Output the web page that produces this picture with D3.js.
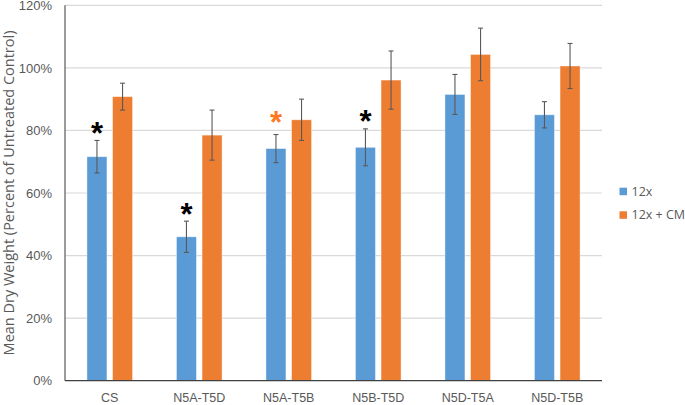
<!DOCTYPE html>
<html><head><meta charset="utf-8">
<script src="https://cdn.jsdelivr.net/npm/d3@7"></script>
<style>body{margin:0;background:#fff;}svg{display:block;font-family:"Open Sans","Liberation Sans",Arial,sans-serif;}</style>
</head><body>
<script>
const categories = ["CS","N5A-T5D","N5A-T5B","N5B-T5D","N5D-T5A","N5D-T5B"];
const seriesNames = ["12x","12x + CM"];
const values12x = [71.6, 46.0, 74.2, 74.6, 91.5, 85.0];
const err12x = [5.2, 5.0, 4.5, 5.9, 6.4, 4.2];
const values12xCM = [90.8, 78.5, 83.4, 96.1, 104.3, 100.6];
const err12xCM = [4.3, 8.0, 6.6, 9.3, 8.4, 7.2];
const asterisk12x = ["black","black","orange","black",null,null];
const yTicks = [0,20,40,60,80,100,120];

const W=685,H=405;
const m={left:65,right:83,top:5.3,bottom:24.3};
const colors=["#5B9BD5","#ED7D31"];
const starColors={black:"#000000",orange:"#FF7A1F"};

const svg=d3.select("body").append("svg").attr("width",W).attr("height",H);
const x=d3.scaleBand().domain(categories).range([m.left,W-m.right]).paddingInner(0).paddingOuter(0);
const y=d3.scaleLinear().domain([0,120]).range([H-m.bottom,m.top]);
const bw=20, off=12.8;

// gridlines
svg.append("g").selectAll("line").data(yTicks.filter(d=>d>0)).join("line")
 .attr("x1",m.left).attr("x2",W-m.right).attr("y1",d=>y(d)).attr("y2",d=>y(d))
 .attr("stroke","#d9d9d9").attr("stroke-width",1.2);

// y axis labels
const yAxis=d3.axisLeft(y).tickValues(yTicks).tickFormat(d=>d+"%").tickSize(0).tickPadding(13);
const ga=svg.append("g").attr("transform",`translate(${m.left},0)`).call(yAxis);
ga.select(".domain").remove();
ga.selectAll("text").attr("fill","#595959").attr("font-size",13);

const series=[{v:values12x,e:err12x},{v:values12xCM,e:err12xCM}];
series.forEach((s,si)=>{
  const cx=(i)=>x(categories[i])+x.bandwidth()/2+(si===0?-off:off);
  svg.append("g").selectAll("rect").data(s.v).join("rect")
   .attr("x",(d,i)=>cx(i)-bw/2).attr("width",bw)
   .attr("y",d=>y(d)).attr("height",d=>y(0)-y(d))
   .attr("fill",colors[si]).attr("stroke","#ffffff").attr("stroke-opacity",0.5).attr("stroke-width",0.8);
  const eg=svg.append("g").attr("stroke","#595959").attr("stroke-width",1.1);
  s.v.forEach((d,i)=>{
    const c=cx(i), t=y(d+s.e[i]), b=y(d-s.e[i]);
    eg.append("line").attr("x1",c).attr("x2",c).attr("y1",t).attr("y2",b);
    eg.append("line").attr("x1",c-2.5).attr("x2",c+2.5).attr("y1",t).attr("y2",t);
    eg.append("line").attr("x1",c-2.5).attr("x2",c+2.5).attr("y1",b).attr("y2",b);
  });
  if(si===0){
    s.v.forEach((d,i)=>{
      const col=asterisk12x[i]; if(!col) return;
      const c=cx(i), t=y(d+s.e[i]);
      const center=t-(col==="orange"?18:13);
      svg.append("text").attr("x",c).attr("y",center+16.5).attr("text-anchor","middle")
       .attr("font-family","Liberation Sans,Arial,sans-serif")
       .attr("font-weight","bold").attr("font-size",31)
       .attr("fill",starColors[col]).text("*");
    });
  }
});

// axes lines
svg.append("line").attr("x1",m.left).attr("x2",m.left).attr("y1",m.top).attr("y2",y(0)).attr("stroke","#595959").attr("stroke-width",1.2);
svg.append("line").attr("x1",m.left).attr("x2",W-m.right).attr("y1",y(0)).attr("y2",y(0)).attr("stroke","#404040").attr("stroke-width",1.3);

// x labels
const xAxis=d3.axisBottom(x).tickSize(0).tickPadding(12);
const gx=svg.append("g").attr("transform",`translate(0,${y(0)})`).call(xAxis);
gx.select(".domain").remove();
gx.selectAll("text").attr("fill","#595959").attr("font-size",12.5);

// y title
svg.append("text").attr("transform",`translate(14,${(m.top+y(0))/2}) rotate(-90)`)
 .attr("text-anchor","middle").attr("fill","#595959").attr("font-size",14.5)
 .text("Mean Dry Weight (Percent of Untreated Control)");

// legend
const lg=svg.append("g");
seriesNames.forEach((n,i)=>{
  const ly=191.5+i*23.6;
  lg.append("rect").attr("x",619.5).attr("y",ly-3.8).attr("width",7.5).attr("height",7.5).attr("fill",colors[i]);
  lg.append("text").attr("x",631.5).attr("y",ly+4.3).attr("fill","#595959").attr("font-size",12.5).text(n);
});
</script>
</body></html>
